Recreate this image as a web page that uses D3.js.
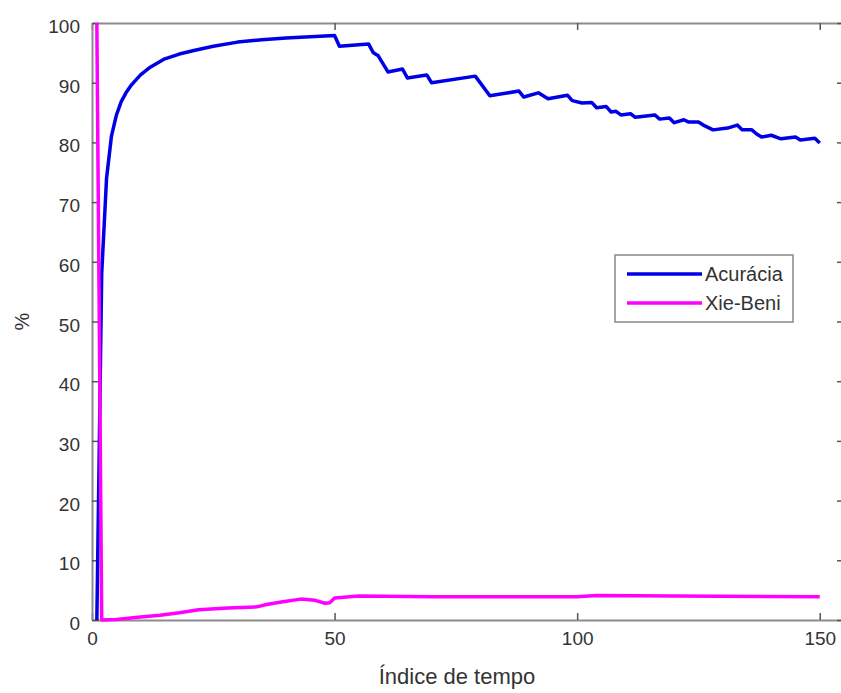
<!DOCTYPE html>
<html>
<head>
<meta charset="utf-8">
<script src="https://cdn.jsdelivr.net/npm/d3@7"></script>
<style>
  body { margin: 0; background: #fff; }
  svg { display: block; font-family: "Liberation Sans", Arial, sans-serif; }
  .axis .domain { stroke: #8c8c8c; stroke-width: 2; }
  .axis .tick line { stroke: #555; stroke-width: 1.5; }
  .axis text { fill: #333; font-size: 19px; }
</style>
</head>
<body>
<div id="chart"></div>
<script>
const width = 841;
const height = 693;

// Acurácia (time index / percent)
const accIndex = [1, 2, 3, 4, 5, 6, 7, 8, 10, 12, 15, 18, 21, 25, 30, 35, 40, 45, 50,
    51, 57, 58, 59, 61, 64, 65, 69, 70, 79, 82, 88, 89, 92, 94, 98, 99, 101, 103, 104,
    106, 107, 108, 109, 111, 112, 116, 117, 119, 120, 122, 123, 125, 126, 128, 131, 133,
    134, 136, 137, 138, 140, 142, 145, 146, 149, 150];
const accValue = [0, 58, 74, 81, 84.5, 86.8, 88.3, 89.5, 91.3, 92.6, 94, 94.8, 95.4, 96.1, 96.8, 97.2, 97.5, 97.7, 97.9,
    96.1, 96.5, 95, 94.5, 91.8, 92.3, 90.8, 91.3, 90, 91.1, 87.8, 88.6, 87.6, 88.3, 87.3, 87.9, 87.0, 86.6, 86.7, 85.8,
    86, 85.1, 85.2, 84.6, 84.8, 84.2, 84.6, 83.9, 84.1, 83.3, 83.8, 83.4, 83.4, 82.9, 82.1, 82.4, 82.9,
    82.1, 82.1, 81.4, 80.9, 81.2, 80.6, 80.9, 80.4, 80.7, 79.9];

// Xie-Beni
const xbIndex = [1, 2, 5, 10, 14, 18, 22, 28, 34, 36, 39, 43, 46, 48, 49, 50, 55, 70, 100, 104, 120, 150];
const xbValue = [100, 0, 0.1, 0.5, 0.8, 1.2, 1.7, 2.0, 2.2, 2.6, 3.0, 3.5, 3.3, 2.8, 2.9, 3.7, 4.0, 3.9, 3.9, 4.1, 4.0, 3.9];

const xTicks = [0, 50, 100, 150];
const yTicks = [0, 10, 20, 30, 40, 50, 60, 70, 80, 90, 100];

const seriesNames = ["Acurácia", "Xie-Beni"];
const seriesColors = ["#0000e6", "#ff00ff"];

const xLabel = "Índice de tempo";
const yLabel = "%";

const x = d3.scaleLinear().domain([0, 155]).range([92, 844]);
const y = d3.scaleLinear().domain([0, 100]).range([620, 23]);

const svg = d3.select("#chart").append("svg")
    .attr("width", width)
    .attr("height", height);

// box axes, ticks pointing inward
svg.append("g").attr("class", "axis")
    .attr("transform", `translate(0,${y(0)})`)
    .call(d3.axisBottom(x).tickValues(xTicks).tickSize(-7).tickSizeOuter(0).tickPadding(12));

svg.append("g").attr("class", "axis")
    .attr("transform", `translate(0,${y(100)})`)
    .call(d3.axisTop(x).tickValues(xTicks).tickSize(-7).tickSizeOuter(0).tickFormat(""));

svg.append("g").attr("class", "axis y-left")
    .attr("transform", `translate(${x(0)},0)`)
    .call(d3.axisLeft(y).tickValues(yTicks).tickSize(-7).tickSizeOuter(0).tickPadding(12));

svg.append("g").attr("class", "axis")
    .attr("transform", `translate(${x(155)},0)`)
    .call(d3.axisRight(y).tickValues(yTicks).tickSize(-7).tickSizeOuter(0).tickFormat(""));

svg.selectAll(".y-left .tick text").attr("dy", "0.5em");

const line = d3.line()
    .x(d => x(d[0]))
    .y(d => y(d[1]));

const series = [
    d3.zip(accIndex, accValue),
    d3.zip(xbIndex, xbValue)
];

svg.append("g")
    .selectAll("path")
    .data(series)
    .join("path")
        .attr("d", line)
        .attr("fill", "none")
        .attr("stroke", (d, i) => seriesColors[i])
        .attr("stroke-width", 3.5)
        .attr("stroke-linejoin", "round");

// axis labels
svg.append("text")
    .attr("x", 457)
    .attr("y", 684)
    .attr("text-anchor", "middle")
    .attr("fill", "#333")
    .attr("font-size", 22)
    .text(xLabel);

svg.append("text")
    .attr("transform", `translate(29,${(y(0) + y(100)) / 2}) rotate(-90)`)
    .attr("text-anchor", "middle")
    .attr("fill", "#333")
    .attr("font-size", 20)
    .text(yLabel);

// legend
const legend = svg.append("g");
legend.append("rect")
    .attr("x", 615).attr("y", 255)
    .attr("width", 178).attr("height", 67)
    .attr("fill", "#fff")
    .attr("stroke", "#888")
    .attr("stroke-width", 1.5);

const item = legend.selectAll("g.item")
    .data(seriesNames)
    .join("g")
        .attr("class", "item")
        .attr("transform", (d, i) => `translate(0,${274 + i * 29})`);

item.append("line")
    .attr("x1", 627).attr("x2", 702)
    .attr("stroke", (d, i) => seriesColors[i])
    .attr("stroke-width", 3.5);

item.append("text")
    .attr("x", 705)
    .attr("dy", "0.36em")
    .attr("fill", "#333")
    .attr("font-size", 20)
    .text(d => d);
</script>
</body>
</html>
